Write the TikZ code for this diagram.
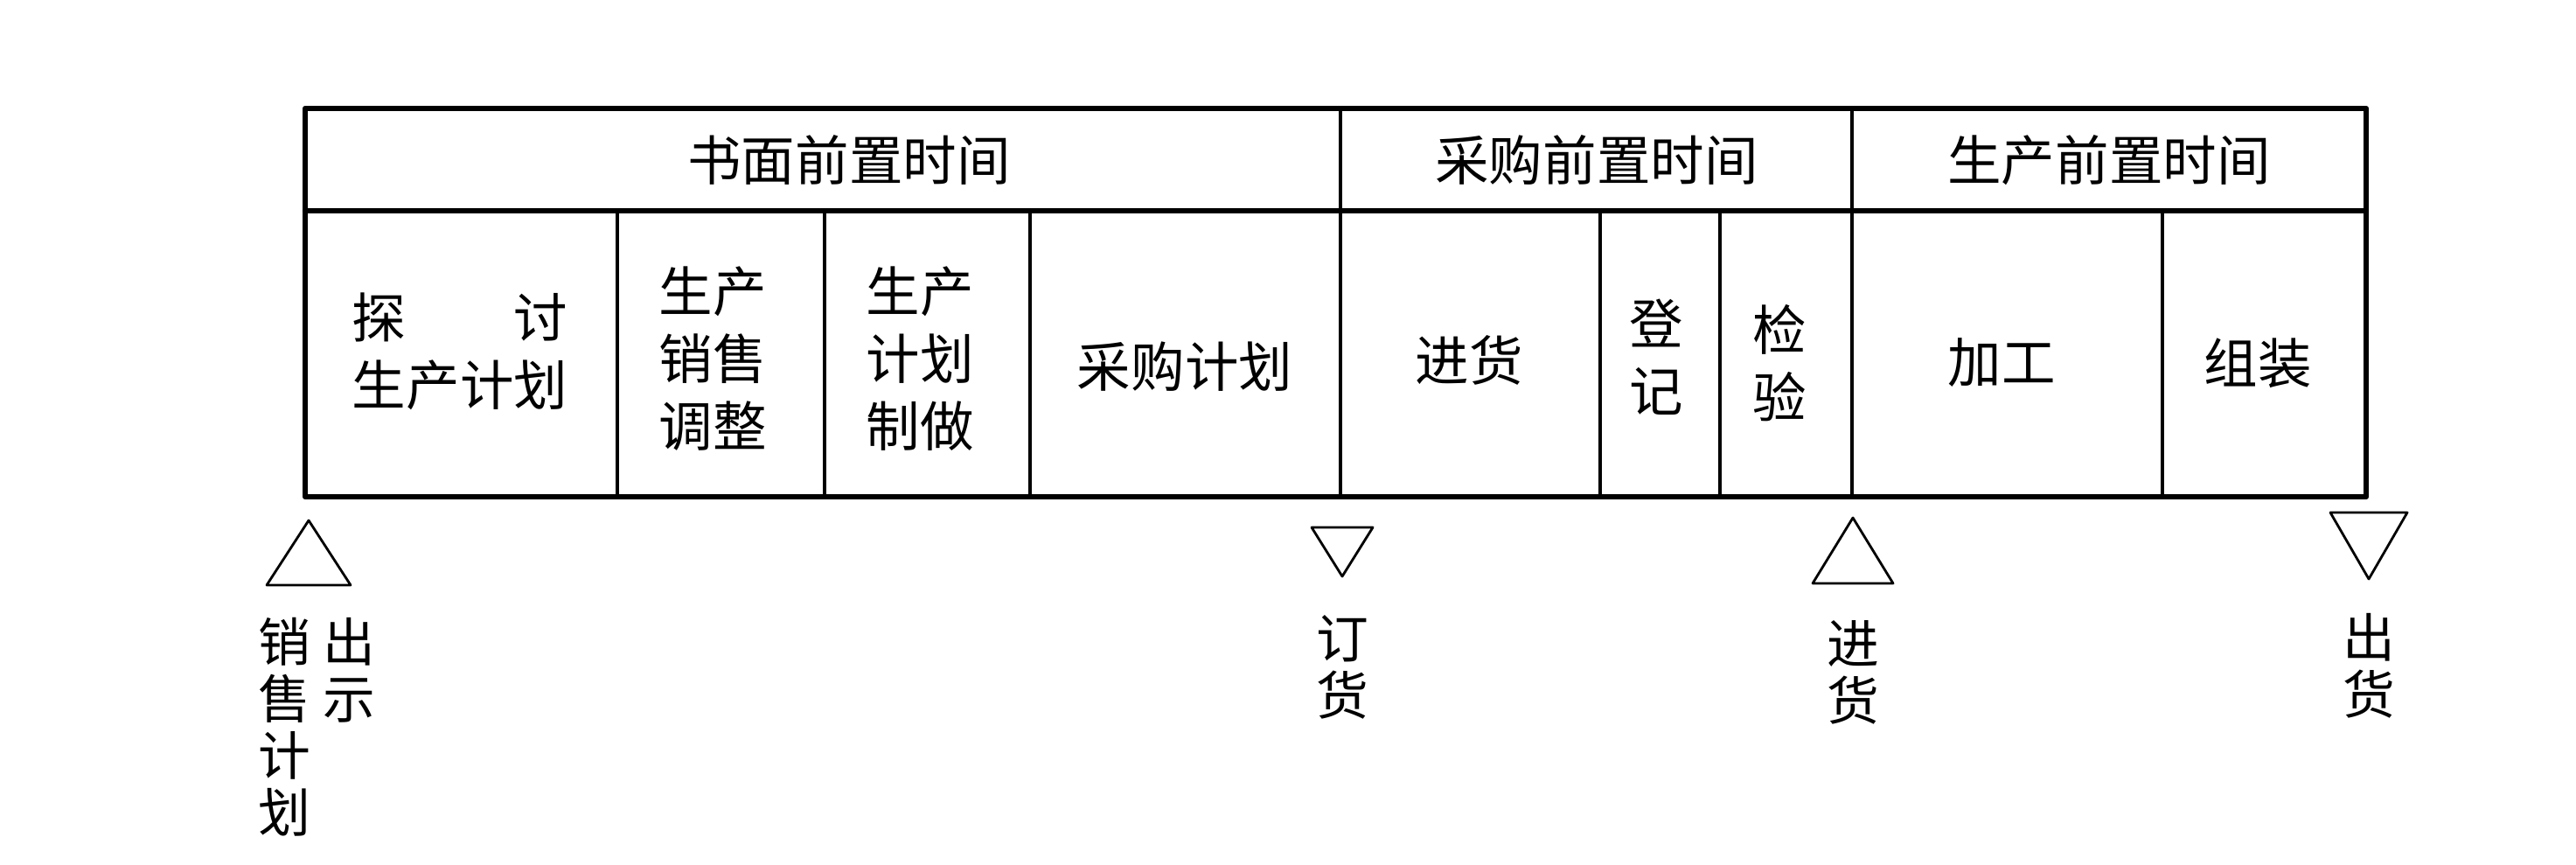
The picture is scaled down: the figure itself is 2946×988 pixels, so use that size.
\documentclass[tikz,border=0pt]{standalone}
\usepackage{fontspec}
\setmainfont{Noto Sans CJK SC}
\usetikzlibrary{positioning}

\tikzset{
  heavy/.style={line width=1.8pt},
  divider/.style={line width=1.1pt},
  marker/.style={line width=0.8pt},
  cell/.style={align=center,inner sep=0pt,font=\fontsize{17.5}{22}\selectfont},
  tag/.style={align=center,inner sep=0pt,anchor=north,font=\fontsize{17}{18.4}\selectfont}
}

\begin{document}
\begin{tikzpicture}[line cap=round,line join=round,x=0.01cm,y=-0.01cm]
\useasboundingbox (0,0) rectangle (2946,988);
% frame
\draw[heavy] (349,124) rectangle (2706,568);
\draw[heavy] (349,241) -- (2706,241);
\foreach \x in {1533,2118} \draw[divider] (\x,124) -- (\x,568);
\foreach \x in {706,943,1178,1830,1967,2473} \draw[divider] (\x,241) -- (\x,568);
% header
\node[cell] (shumian) at (971,183) {书面前置时间};
\node[cell] (caigou) at (1826,183) {采购前置时间};
\node[cell] (shengchan) at (2412,183) {生产前置时间};
% cells
\node[cell] (tantao) at (526,402) {\makebox[4em]{探\hfill 讨}\\生产计划};
\node[cell] (tiaozheng) at (815,410) {生产\\销售\\调整};
\node[cell] (zhizuo) at (1052,410) {生产\\计划\\制做};
\node[cell] (jihua) at (1355,419) {采购计划};
\node[cell] (jinhuo) at (1680,412) {进货};
\node[cell] (dengji) at (1894,408) {登\\记};
\node[cell] (jianyan) at (2035,415) {检\\验};
\node[cell] (jiagong) at (2289,415) {加工};
\node[cell] (zuzhuang) at (2582,415) {组装};
% milestones
\coordinate (t1) at (353,669);
\coordinate (t2) at (1535,603);
\coordinate (t3) at (2119,667);
\coordinate (t4) at (2709,586);
\draw[marker] (t1) ++(-48,0) -- ++(48,-74) -- ++(48,74) -- cycle;
\draw[marker] (t2) ++(-35,0) -- ++(35,56) -- ++(35,-56) -- cycle;
\draw[marker] (t3) ++(-46,0) -- ++(46,-75) -- ++(46,75) -- cycle;
\draw[marker] (t4) ++(-44,0) -- ++(44,76) -- ++(44,-76) -- cycle;
\node[tag] (xiaoshou) at (325,706) {销\\售\\计\\划};
\node[tag] (chushi) at (399,706) {出\\示};
\node[tag] (dinghuo) at (1535,703) {订\\货};
\node[tag] (jinhuo2) at (2119,709) {进\\货};
\node[tag] (chuhuo) at (2709,701) {出\\货};
\end{tikzpicture}
\end{document}
